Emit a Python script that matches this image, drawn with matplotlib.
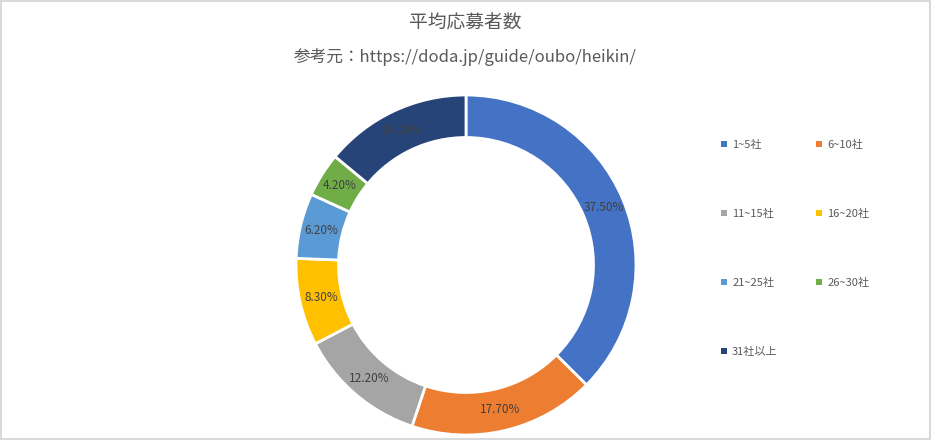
import numpy as np
from matplotlib import pyplot as plt

plt.rcParams['font.family'] = ['Noto Sans CJK JP', 'DejaVu Sans']

categories = ['1~5社', '6~10社', '11~15社', '16~20社', '21~25社', '26~30社', '31社以上']
shares = [37.50, 17.70, 12.20, 8.30, 6.20, 4.20, 14.00]

colors = [
    '#4472C4',  # 1~5
    '#ED7D31',  # 6~10
    '#A5A5A5',  # 11~15
    '#FFC000',  # 16~20
    '#5B9BD5',  # 21~25
    '#70AD47',  # 26~30
    '#264478',  # 31+
]

title = '平均応募者数'
subtitle = '参考元：https://doda.jp/guide/oubo/heikin/'

fig = plt.figure(figsize=(9.31, 4.40), dpi=100)
fig.patch.set_edgecolor('#D9D9D9')
fig.patch.set_linewidth(1.5)

ax = fig.add_axes([(466 - 170) / 931, (440 - 435) / 440, 340 / 931, 340 / 440])
wedges, texts = ax.pie(
    shares,
    colors=colors,
    startangle=90,
    counterclock=False,
    radius=1.0,
    wedgeprops=dict(width=0.25, edgecolor='white', linewidth=2),
)
# data labels show the raw values (they add up to 100.1, so no autopct)
for w, v in zip(wedges, shares):
    ang = np.deg2rad((w.theta1 + w.theta2) / 2)
    ax.text(0.875 * np.cos(ang), 0.875 * np.sin(ang), '%.2f%%' % v,
            ha='center', va='center', fontsize=8.5, color='#404040')
ax.set_xlim(-1, 1)
ax.set_ylim(-1, 1)
ax.set_aspect('equal')

fig.text(0.5, 1 - 22 / 440, title, ha='center', va='center',
         fontsize=13.5, color='#595959')
fig.text(0.5, 1 - 57 / 440, subtitle, ha='center', va='center',
         fontsize=12, color='#595959')

# legend fills row by row in the reference
order = [0, 2, 4, 6, 1, 3, 5]
leg = fig.legend(
    [wedges[i] for i in order], [categories[i] for i in order],
    loc='upper left',
    bbox_to_anchor=(721 / 931, 1 - 140 / 440),
    ncol=2,
    frameon=False,
    fontsize=8,
    handlelength=0.5,
    handleheight=0.5,
    handletextpad=0.5,
    labelspacing=5.3,
    columnspacing=3.45,
    borderpad=0,
    borderaxespad=0,
    labelcolor='#595959',
)
for h in leg.legend_handles:
    h.set_edgecolor('none')

fig.savefig('out.png', dpi=100)
